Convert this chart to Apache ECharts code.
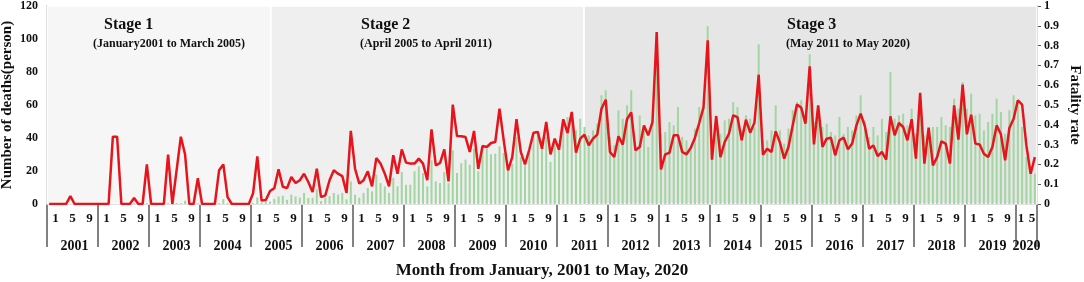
<!DOCTYPE html>
<html>
<head>
<meta charset="utf-8">
<style>
  html, body { margin: 0; padding: 0; background: #fff; }
  #chart { width: 1084px; height: 282px; }
</style>
<script src="https://cdn.jsdelivr.net/npm/echarts@6/dist/echarts.min.js"></script>
</head>
<body>
<div id="chart"></div>
<script>
// monthly data, January 2001 to May 2020
const years = [2001, 2002, 2003, 2004, 2005, 2006, 2007, 2008, 2009, 2010,
  2011, 2012, 2013, 2014, 2015, 2016, 2017, 2018, 2019, 2020]
const lastYearMonths = 5
const monthTicks = [1, 5, 9]

// number of deaths (person), one row per year
const deaths = [
  0, 0, 0, 0, 0, 0, 0, 0, 0, 0, 0, 0,
  0, 0, 0, 0, 0, 0, 0, 0, 0.5, 0, 0, 0.5,
  0.5, 0, 0, 0.5, 0.5, 0, 0.5, 0.5, 2, 0.5, 0, 0.5,
  0, 0.5, 0, 0.5, 0.5, 3, 0.5, 0, 0, 0, 0, 0.5,
  0.5, 4, 1, 1.5, 1.5, 3, 4.5, 5, 2.5, 5.7, 4.6, 3.8,
  6.7, 3.6, 3.8, 8.9, 1.8, 3.8, 4.8, 6.7, 5.7, 6.7, 2.8, 13.7,
  5.7, 3.8, 6.7, 9.7, 7.7, 17.8, 12.7, 10.7, 6.7, 15.8, 10.7, 19.4,
  11.7, 11.7, 19.8, 22.8, 18.8, 10.7, 26.5, 13.7, 12.7, 19.4, 12.7, 32.5,
  18.8, 24.8, 26.9, 23.8, 33.5, 19.8, 34.9, 33.5, 30.1, 30.5, 34.9, 30.9,
  20.4, 24.4, 40.6, 28.5, 23.4, 31.5, 41.6, 43, 38.6, 40.6, 25.5, 36.6,
  32.5, 50.7, 52.7, 52.7, 44.6, 51.7, 46.7, 41.6, 44.6, 48.7, 65.9, 68.9,
  40.6, 35.6, 56.8, 51.7, 59.8, 68.9, 34.5, 53.7, 44.6, 34.5, 50.7, 104,
  42.6, 43.6, 49.7, 47.7, 58.8, 40.6, 38.6, 32.5, 45.7, 58.8, 58.8, 107.7,
  28.5, 53.7, 42.6, 50.7, 51.7, 61.8, 58.8, 44.6, 53.7, 51.7, 46.7, 96.8,
  38.6, 38.6, 44.6, 59.8, 44.6, 36.6, 45.7, 56.8, 61.8, 62.8, 52.7, 90.7,
  49.7, 53.7, 46.7, 48.7, 43.6, 41.6, 52.7, 42.6, 46.7, 44.6, 53.7, 65.9,
  50.7, 40.6, 46.7, 41.6, 51.7, 43.6, 80, 51.7, 53.7, 54.7, 47.7, 57.8,
  42.6, 64.8, 41.6, 41.6, 46.7, 46.7, 52.7, 47.7, 46.7, 63.8, 57.8, 73.9,
  57.8, 66.9, 53.7, 54.7, 44.6, 49.7, 54.7, 63.8, 55.8, 42.6, 56.8, 65.9,
  62.8, 46.7, 28.5, 18.4, 18.4
]

// fatality rate
const fatalityRate = [
  0, 0, 0, 0, 0, 0.04, 0, 0, 0, 0, 0, 0,
  0, 0, 0, 0.34, 0.34, 0, 0, 0, 0.03, 0, 0, 0.2,
  0, 0, 0, 0, 0.25, 0, 0.17, 0.34, 0.25, 0, 0, 0.13,
  0, 0, 0, 0, 0.17, 0.2, 0.035, 0, 0, 0, 0, 0,
  0.054, 0.24, 0.017, 0.02, 0.066, 0.08, 0.175, 0.087, 0.08, 0.136, 0.106, 0.12,
  0.153, 0.111, 0.06, 0.178, 0.035, 0.044, 0.12, 0.17, 0.153, 0.141, 0.056, 0.369,
  0.178, 0.103, 0.12, 0.165, 0.089, 0.232, 0.204, 0.153, 0.089, 0.246, 0.153, 0.276,
  0.209, 0.204, 0.204, 0.229, 0.204, 0.12, 0.377, 0.195, 0.207, 0.276, 0.114, 0.502,
  0.343, 0.342, 0.338, 0.263, 0.369, 0.178, 0.293, 0.288, 0.308, 0.313, 0.481, 0.32,
  0.17, 0.237, 0.428, 0.263, 0.2, 0.274, 0.36, 0.364, 0.279, 0.414, 0.251, 0.33,
  0.274, 0.428, 0.359, 0.465, 0.259, 0.33, 0.35, 0.296, 0.33, 0.35, 0.481, 0.527,
  0.263, 0.237, 0.342, 0.3, 0.428, 0.463, 0.271, 0.288, 0.397, 0.347, 0.414, 0.869,
  0.175, 0.251, 0.259, 0.347, 0.347, 0.263, 0.251, 0.283, 0.335, 0.409, 0.487, 0.827,
  0.224, 0.444, 0.237, 0.313, 0.355, 0.448, 0.439, 0.322, 0.426, 0.36, 0.411, 0.653,
  0.249, 0.279, 0.263, 0.367, 0.31, 0.229, 0.288, 0.397, 0.503, 0.487, 0.406, 0.695,
  0.301, 0.498, 0.288, 0.33, 0.335, 0.246, 0.322, 0.335, 0.276, 0.305, 0.397, 0.456,
  0.392, 0.279, 0.296, 0.242, 0.263, 0.224, 0.443, 0.347, 0.409, 0.389, 0.322, 0.428,
  0.229, 0.561, 0.204, 0.386, 0.195, 0.237, 0.316, 0.305, 0.204, 0.498, 0.325, 0.603,
  0.352, 0.451, 0.305, 0.301, 0.254, 0.237, 0.288, 0.397, 0.352, 0.221, 0.384, 0.431,
  0.524, 0.502, 0.296, 0.153, 0.237
]

// stage shading, in months from the left edge of the plot
const stageBounds = [0, 52.7, 126.4, 233]
const stageNames = ['Stage 1', 'Stage 2', 'Stage 3']
const stagePeriods = ['(January2001 to March 2005)', '(April 2005 to April 2011)', '(May 2011 to May 2020)']

const months = []
years.forEach(y => {
  const n = y === years[years.length - 1] ? lastYearMonths : 12
  for (let m = 1; m <= n; m++) months.push(y + '-' + String(m).padStart(2, '0'))
})
const lastYear = String(years[years.length - 1])

const FONT = 'Liberation Serif'
const AXIS_COLOR = '#595959'
const stageColors = ['#f6f6f6', '#efefef', '#e6e6e6']
const stageLeft = [[104, 93], [361, 360], [787, 786]]

const chart = echarts.init(document.getElementById('chart'))

const option = {
  animation: false,
  backgroundColor: '#fff',
  textStyle: { fontFamily: FONT, fontWeight: 'bold', color: '#111' },
  grid: { left: 47, right: 47, top: 6, bottom: 78, containLabel: false, outerBoundsMode: 'none' },
  xAxis: [
    {
      type: 'category',
      data: months,
      boundaryGap: true,
      axisLine: { show: true, lineStyle: { color: AXIS_COLOR, width: 1.5 } },
      axisTick: { show: false },
      axisLabel: {
        interval: (i, v) => monthTicks.includes(+v.slice(5)),
        margin: 8,
        fontSize: 13,
        fontFamily: FONT,
        fontWeight: 'bold',
        color: '#111',
        formatter: (v) => {
          const m = +v.slice(5)
          if (v.startsWith(lastYear)) return m === 1 ? '{e|1}' : '{f|' + m + '}'
          return '{s|' + m + '}'
        },
        rich: {
          s: { padding: [0, 0, 0, 13] },
          e: { padding: [0, 0, 0, 6] },
          f: { padding: [0, 6, 0, 0] }
        }
      }
    },
    {
      type: 'category',
      data: months,
      position: 'bottom',
      boundaryGap: true,
      axisLine: { show: false },
      axisTick: {
        show: true,
        interval: (i, v) => v.endsWith('-01'),
        length: 43,
        lineStyle: { color: AXIS_COLOR, width: 1.5 }
      },
      axisLabel: {
        interval: (i, v) => v.startsWith(lastYear) ? v.endsWith('-03') : v.endsWith('-07'),
        margin: 35,
        fontSize: 14,
        fontFamily: FONT,
        fontWeight: 'bold',
        color: '#111',
        formatter: v => v.slice(0, 4)
      },
      name: 'Month from January, 2001 to May, 2020',
      nameLocation: 'middle',
      nameGap: 58,
      nameMoveOverlap: false,
      nameTextStyle: { fontSize: 17, fontFamily: FONT, fontWeight: 'bold', color: '#111' }
    },
    {
      type: 'value',
      show: false,
      min: 0,
      max: months.length
    }
  ],
  yAxis: [
    {
      type: 'value',
      min: 0,
      max: 120,
      interval: 20,
      splitLine: { show: false },
      axisLine: { show: true, lineStyle: { color: AXIS_COLOR, width: 1.5 } },
      axisTick: { show: false },
      axisLabel: { margin: 9, fontSize: 12, fontFamily: FONT, fontWeight: 'bold', color: '#111' },
      name: 'Number of deaths(person)',
      nameLocation: 'middle',
      nameGap: 32,
      nameMoveOverlap: false,
      nameTextStyle: { fontSize: 15, fontFamily: FONT, fontWeight: 'bold', color: '#111' }
    },
    {
      type: 'value',
      min: 0,
      max: 1,
      interval: 0.1,
      position: 'right',
      splitLine: { show: false },
      axisLine: { show: true, lineStyle: { color: AXIS_COLOR, width: 1.5 } },
      axisTick: { show: true, length: 4, lineStyle: { color: AXIS_COLOR } },
      axisLabel: { margin: 7, fontSize: 12, fontFamily: FONT, fontWeight: 'bold', color: '#111' },
      name: 'Fatality rate',
      nameLocation: 'middle',
      nameGap: 30,
      nameRotate: -90,
      nameMoveOverlap: false,
      nameTextStyle: { fontSize: 15, fontFamily: FONT, fontWeight: 'bold', color: '#111' }
    }
  ],
  graphic: stageNames.flatMap((name, k) => [
    { type: 'text', left: stageLeft[k][0], top: 17, z: 10,
      style: { text: name, font: 'bold 16px "' + FONT + '"', fill: '#111' } },
    { type: 'text', left: stageLeft[k][1], top: 38, z: 10,
      style: { text: stagePeriods[k], font: 'bold 12px "' + FONT + '"', fill: '#111' } }
  ]),
  series: [
    {
      name: 'stages',
      type: 'line',
      xAxisIndex: 2,
      yAxisIndex: 0,
      data: [],
      z: 0,
      silent: true,
      markArea: {
        silent: true,
        data: stageNames.map((n, k) => [
          { xAxis: stageBounds[k], itemStyle: { color: stageColors[k], borderColor: '#fff', borderWidth: 1.5 } },
          { xAxis: stageBounds[k + 1] }
        ])
      }
    },
    {
      name: 'Number of deaths',
      type: 'bar',
      xAxisIndex: 0,
      yAxisIndex: 0,
      data: deaths,
      barWidth: 2,
      z: 2,
      itemStyle: { color: '#a3d5a3' }
    },
    {
      name: 'Fatality rate',
      type: 'line',
      xAxisIndex: 0,
      yAxisIndex: 1,
      data: fatalityRate,
      symbol: 'none',
      z: 3,
      lineStyle: { color: '#e8141b', width: 2.5 }
    }
  ]
}

chart.setOption(option)
</script>
</body>
</html>
